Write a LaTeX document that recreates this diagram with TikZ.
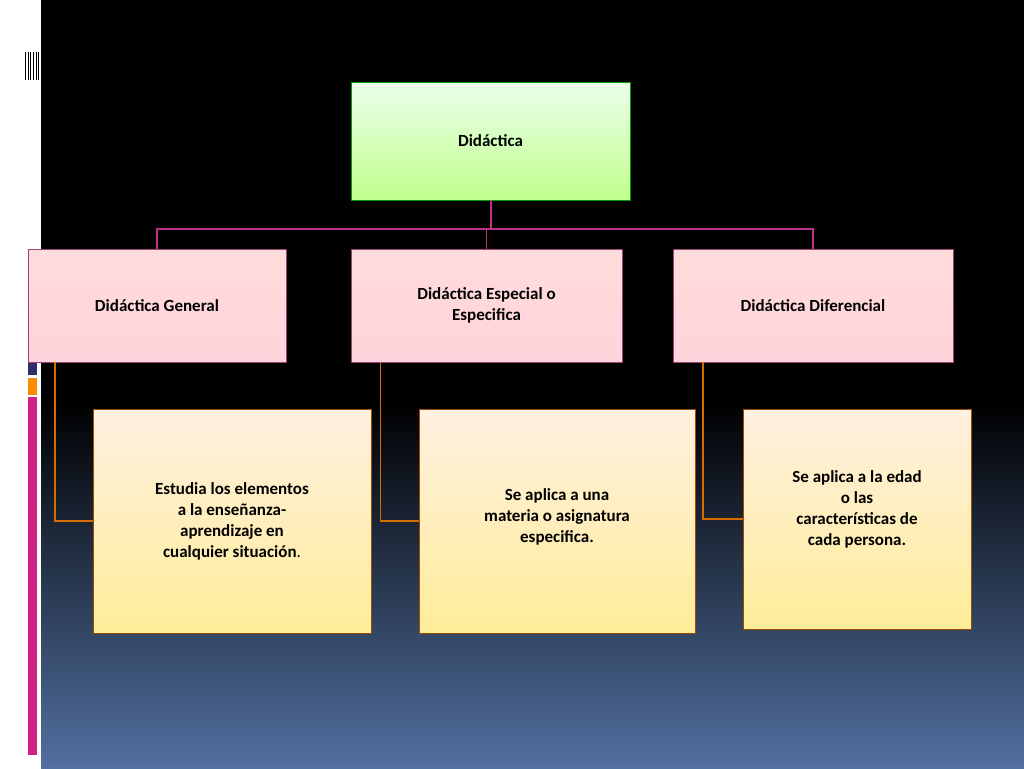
\documentclass[tikz,border=0pt]{standalone}
\usepackage{fontspec}
\setmainfont{Carlito}
\begin{document}
\begin{tikzpicture}[x=1pt,y=-1pt,
 box/.style={draw=#1!60!black,line width=0.6pt,align=center,font=\fontsize{17}{21}\selectfont\bfseries,text=black,inner sep=2pt},
 green/.style={box=green, top color=green!8, bottom color=green!40!lime!45},
 pink/.style={box=magenta, top color=pink!55, bottom color=pink!95!magenta!60},
 peach/.style={box=orange, top color=orange!12, bottom color=orange!35!yellow!40},
 mline/.style={draw=magenta!75!black,line width=1.2pt},
 oline/.style={draw=orange!85!black,line width=1.2pt}]
\useasboundingbox (0,0) rectangle (1024,768);
\fill[white] (0,0) rectangle (41,768);
\fill[black] (41,0) rectangle (1024,400);
\shade[top color=black,bottom color={rgb,255:red,82;green,112;blue,160}] (41,400) rectangle (1024,768);
\foreach \x in {25,28,30,33,36,38} \fill[black] (\x,52) rectangle (\x+1.2,80);
\fill[magenta!85!black] (28,346) rectangle (37,355);
\fill[gray!60!blue!60!black] (28,357) rectangle (37,375);
\fill[orange!90!yellow] (28,378) rectangle (37,395);
\fill[magenta!85!black] (28,397) rectangle (37,755);
\node[green,minimum width=279,minimum height=118] (top) at (490.5,141) {Didáctica};
\node[pink,minimum width=258,minimum height=113] (g) at (157,305.5) {Didáctica General};
\node[pink,minimum width=271,minimum height=113] (e) at (486.5,305.5) {Didáctica Especial o\\Especifica};
\node[pink,minimum width=280,minimum height=113] (d) at (813,305.5) {Didáctica Diferencial};
\node[peach,minimum width=278,minimum height=224] (g2) at (232,521) {Estudia los elementos\\a la enseñanza-\\aprendizaje en\\cualquier situación\mdseries.};
\node[peach,minimum width=276,minimum height=224] (e2) at (557,521) {\\Se aplica a una\\materia o asignatura\\especifica.\\};
\node[peach,minimum width=228,minimum height=220] (d2) at (857,519) {Se aplica a la edad\\o las\\características de\\cada persona.\\};
\coordinate (j) at (491,229);
\draw[mline] (top.south -| j) -- (j);
\draw[mline] (g.north) -- (g.north |- j) -- (d.north |- j) -- (d.north);
\draw[mline] (e.north |- j) -- (e.north);
\draw[oline] ([xshift=-102pt]g.south) |- (g2.west);
\draw[oline] ([xshift=-106pt]e.south) |- (e2.west);
\draw[oline] ([xshift=-110pt]d.south) |- (d2.west);
\end{tikzpicture}
\end{document}
